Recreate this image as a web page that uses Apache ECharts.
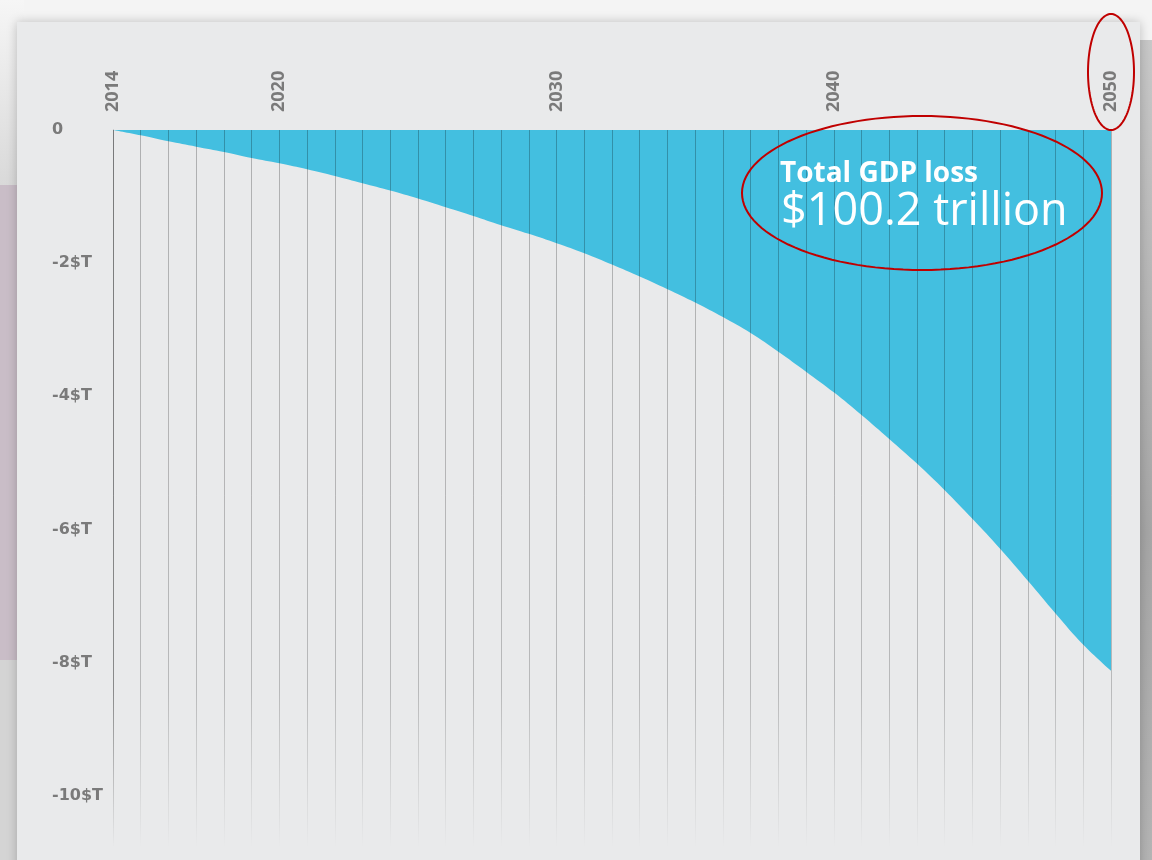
<!DOCTYPE html>
<html>
<head>
<meta charset="utf-8">
<script src="https://cdn.jsdelivr.net/npm/echarts@6/dist/echarts.min.js"></script>
<style>
  html, body { margin: 0; padding: 0; width: 1152px; height: 860px; overflow: hidden; background: #f4f4f4; }
  #stage { position: relative; width: 1152px; height: 860px; }
  .leftTop { position: absolute; left: 0; top: 0; width: 24px; height: 185px; background: linear-gradient(#f6f6f6, #d9d9d9); }
  .leftPurple { position: absolute; left: 0; top: 185px; width: 24px; height: 480px; background: #c9bdc7; }
  .leftBottom { position: absolute; left: 0; top: 660px; width: 24px; height: 200px; background: #d4d4d4; }
  .rightStrip { position: absolute; left: 1138px; top: 40px; width: 14px; height: 820px; background: linear-gradient(#c8c8c8, #a6a6a6 60%, #b4b4b4); }
  .card { position: absolute; left: 17px; top: 22px; width: 1123px; height: 860px; background: #e9eaeb; box-shadow: 0 0 10px rgba(0,0,0,0.22); }
  #chart { position: absolute; left: 0; top: 0; width: 1152px; height: 860px; }
</style>
</head>
<body>
<div id="stage">
  <div class="leftTop"></div>
  <div class="leftPurple"></div>
  <div class="leftBottom"></div>
  <div class="rightStrip"></div>
  <div class="card"></div>
  <div id="chart"></div>
</div>
<script>
// ---- data ----
const years = ['2014','2015','2016','2017','2018','2019','2020','2021','2022','2023','2024','2025','2026','2027','2028','2029','2030','2031','2032','2033','2034','2035','2036','2037','2038','2039','2040','2041','2042','2043','2044','2045','2046','2047','2048','2049','2050'];
const gdpLoss = [0, -0.08, -0.17, -0.25, -0.33, -0.42, -0.50, -0.59, -0.69, -0.80, -0.91, -1.03, -1.16, -1.29, -1.43, -1.56, -1.70, -1.85, -2.02, -2.20, -2.39, -2.59, -2.81, -3.05, -3.33, -3.63, -3.94, -4.28, -4.64, -5.01, -5.41, -5.84, -6.29, -6.77, -7.26, -7.73, -8.12];
const labelYears = ['2014','2020','2030','2040','2050'];
const annotationTitle = 'Total GDP loss';
const annotationValue = '$100.2 trillion';

const chart = echarts.init(document.getElementById('chart'), null, { renderer: 'canvas' });

function ellipsePoints(cx, cy, rx, ry) {
  const pts = [];
  for (let i = 0; i < 120; i++) {
    const t = i / 120 * Math.PI * 2;
    pts.push([cx + rx * Math.cos(t), cy + ry * Math.sin(t)]);
  }
  return pts;
}

const fadeLine = (a) => ({
  type: 'linear', x: 0, y: 0, x2: 0, y2: 860, global: true,
  colorStops: [
    { offset: 0, color: 'rgba(0,0,0,' + a + ')' },
    { offset: 0.80, color: 'rgba(0,0,0,' + (a * 0.8) + ')' },
    { offset: 0.985, color: 'rgba(0,0,0,0)' },
    { offset: 1, color: 'rgba(0,0,0,0)' }
  ]
});

chart.setOption({
  backgroundColor: 'transparent',
  animation: false,
  grid: { left: 113, right: 41, top: 130, bottom: -69, containLabel: false, outerBoundsMode: 'none' },
  xAxis: {
    type: 'category',
    data: years,
    position: 'top',
    boundaryGap: false,
    z: 3,
    axisLine: { show: false },
    axisTick: { show: false },
    axisLabel: {
      rotate: 90,
      margin: 18,
      interval: (idx, val) => labelYears.includes(val),
      color: '#7a7a7a', fontFamily: 'Open Sans', fontWeight: 'bold', fontSize: 18
    },
    splitLine: {
      show: true,
      interval: 0,
      lineStyle: { color: fadeLine(0.26), width: 1 }
    }
  },
  yAxis: {
    type: 'value',
    min: -12,
    max: 0,
    interval: 2,
    z: 3,
    axisLine: { show: true, lineStyle: { color: fadeLine(0.32), width: 1 } },
    axisTick: { show: false },
    splitLine: { show: false },
    axisLabel: {
      align: 'left',
      margin: 61,
      formatter: (v) => v === 0 ? '0' : (v < -10 ? '' : v + '$T'),
      color: '#7a7a7a', fontFamily: 'DejaVu Sans', fontWeight: 'bold', fontSize: 16
    }
  },
  series: [{
    type: 'line',
    data: gdpLoss,
    smooth: 0.4,
    symbol: 'none',
    lineStyle: { width: 0 },
    areaStyle: { color: '#43bfe0', opacity: 1, origin: 'auto' },
    z: 2
  }],
  graphic: [
    {
      type: 'text', z: 10,
      style: { text: annotationTitle, x: 780, y: 174, fill: '#ffffff', font: 'bold 28px "Open Sans"', textAlign: 'left', textVerticalAlign: 'middle' }
    },
    {
      type: 'text', z: 10,
      style: { text: annotationValue, x: 781, y: 212, fill: '#ffffff', font: '500 45px "Open Sans"', textAlign: 'left', textVerticalAlign: 'middle' }
    },
    {
      type: 'polygon', z: 11,
      shape: { points: ellipsePoints(922, 193, 180, 77) },
      style: { fill: 'none', stroke: '#c00000', lineWidth: 2 }
    },
    {
      type: 'polygon', z: 11,
      shape: { points: ellipsePoints(1111, 72, 23, 58) },
      style: { fill: 'none', stroke: '#c00000', lineWidth: 2 }
    }
  ]
});
</script>
</body>
</html>
